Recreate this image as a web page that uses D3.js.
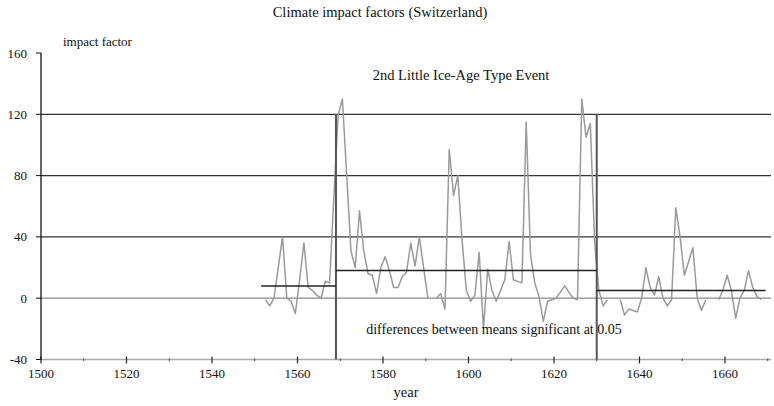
<!DOCTYPE html>
<html>
<head>
<meta charset="utf-8">
<script src="https://cdn.jsdelivr.net/npm/d3@7"></script>
<style>
  body { margin: 0; background: #fff; }
  text { font-family: "Liberation Serif", "DejaVu Serif", serif; fill: #111; }
</style>
</head>
<body>
<script>
// annual impact factor, 1552..1668 (null = no value)
var firstYear = 1552;
var impact = [
  -1, -5, 0, 20, 40, 0, -2, -10, 12, 36,
  7, 5, 2, 0, 11, 10, 66, 119, 130, 81,
  31, 20, 57, 31, 16, 15, 3, 20, 27, 18,
  7, 7, 14, 17, 36, 21, 40, 20, 0, null,
  0, 3, -7, 97, 67, 80, 38, 5, -2, 2,
  30, -20, 19, 5, -2, 5, 12, 37, 12, 11,
  10, 115, 29, 10, 1, -15, -2, -1, 0, 4,
  8, 4, 0, -1, 130, 105, 114, 37, 5, -5,
  -1, null, null, -1, -11, -7, -8, -9, 0, 20,
  7, 2, 14, 0, -5, -1, 59, 40, 15, 24,
  33, 0, -8, -1, null, null, -1, 5, 15, 5,
  -13, 0, 5, 18, 7, 1, -1
];
var years = impact.map(function (d, i) { return firstYear + i; });

// period means
var meanFrom = [1551.5, 1569, 1630];
var meanTo = [1569, 1630, 1669.5];
var meanValue = [8, 18, 5];

// event boundaries
var eventYears = [1569, 1630];

var xTicks = [1500, 1520, 1540, 1560, 1580, 1600, 1620, 1640, 1660];
var xMinor = [1510, 1530, 1550, 1570, 1590, 1610, 1630, 1650, 1670];
var yTicks = [-40, 0, 40, 80, 120, 160];
var gridValues = [0, 40, 80, 120];

var width = 774, height = 406;

var x = d3.scaleLinear().domain([1500, 1671]).range([41, 772]);
var y = d3.scaleLinear().domain([-40, 160]).range([359.5, 53]);

var svg = d3.select('body').append('svg')
  .attr('width', width)
  .attr('height', height);

// horizontal grid
svg.selectAll('.grid')
  .data(gridValues)
  .enter()
  .append('line')
    .attr('class', 'grid')
    .attr('x1', x(1500))
    .attr('x2', x(1671) - 1)
    .attr('y1', function (d) { return y(d); })
    .attr('y2', function (d) { return y(d); })
    .attr('stroke', function (d) { return d === 0 ? '#8a8a8a' : '#333'; })
    .attr('stroke-width', 1.3);

// x axis line (grey)
svg.append('line')
  .attr('x1', x(1500)).attr('x2', x(1671) - 1)
  .attr('y1', y(-40)).attr('y2', y(-40))
  .attr('stroke', '#aaa').attr('stroke-width', 1.6);

svg.selectAll('.xtick')
  .data(xTicks)
  .enter()
  .append('line')
    .attr('x1', function (d) { return x(d); })
    .attr('x2', function (d) { return x(d); })
    .attr('y1', y(-40) - 3).attr('y2', y(-40) + 4)
    .attr('stroke', '#222').attr('stroke-width', 1.2);

svg.selectAll('.xminor')
  .data(xMinor)
  .enter()
  .append('line')
    .attr('x1', function (d) { return x(d); })
    .attr('x2', function (d) { return x(d); })
    .attr('y1', y(-40) - 1).attr('y2', y(-40) + 1.5)
    .attr('stroke', '#444').attr('stroke-width', 1);

svg.selectAll('.xlabel')
  .data(xTicks)
  .enter()
  .append('text')
    .attr('x', function (d) { return x(d); })
    .attr('y', 378)
    .attr('text-anchor', 'middle')
    .style('font-size', '13px')
    .text(function (d) { return d; });

// y axis
svg.append('line')
  .attr('x1', x(1500)).attr('x2', x(1500))
  .attr('y1', y(160)).attr('y2', y(-40))
  .attr('stroke', '#111').attr('stroke-width', 1.3);

svg.selectAll('.ytick')
  .data(yTicks)
  .enter()
  .append('line')
    .attr('x1', x(1500) - 5).attr('x2', x(1500))
    .attr('y1', function (d) { return y(d); })
    .attr('y2', function (d) { return y(d); })
    .attr('stroke', '#111').attr('stroke-width', 1);

svg.selectAll('.ylabel')
  .data(yTicks)
  .enter()
  .append('text')
    .attr('x', 27)
    .attr('y', function (d) { return y(d) + 4.5; })
    .attr('text-anchor', 'end')
    .style('font-size', '13px')
    .text(function (d) { return d; });

// series
var line = d3.line()
  .defined(function (d) { return d.v !== null; })
  .x(function (d) { return x(d.year + 0.5); })
  .y(function (d) { return y(d.v); });

var series = years.map(function (yr, i) { return { year: yr, v: impact[i] }; });

svg.append('path')
  .datum(series)
  .attr('d', line)
  .attr('fill', 'none')
  .attr('stroke', '#9a9a9a')
  .attr('stroke-width', 1.5)
  .attr('stroke-linejoin', 'round');

// event boundary lines
svg.selectAll('.event')
  .data(eventYears)
  .enter()
  .append('line')
    .attr('x1', function (d) { return x(d); })
    .attr('x2', function (d) { return x(d); })
    .attr('y1', y(120)).attr('y2', y(-40))
    .attr('stroke', '#555').attr('stroke-width', 2);

// mean lines
svg.selectAll('.mean')
  .data(meanValue)
  .enter()
  .append('line')
    .attr('x1', function (d, i) { return x(meanFrom[i]); })
    .attr('x2', function (d, i) { return x(meanTo[i]); })
    .attr('y1', function (d) { return y(d); })
    .attr('y2', function (d) { return y(d); })
    .attr('stroke', '#222').attr('stroke-width', 1.5);

// texts
svg.append('text')
  .attr('x', 380).attr('y', 17)
  .attr('text-anchor', 'middle')
  .style('font-size', '14.5px')
  .text('Climate impact factors (Switzerland)');

svg.append('text')
  .attr('x', 63).attr('y', 46)
  .style('font-size', '13px')
  .text('impact factor');

svg.append('text')
  .attr('x', 461).attr('y', 80)
  .attr('text-anchor', 'middle')
  .style('font-size', '14.5px')
  .text('2nd Little Ice-Age Type Event');

svg.append('text')
  .attr('x', 494).attr('y', 334)
  .attr('text-anchor', 'middle')
  .style('font-size', '14px')
  .text('differences between means significant at 0.05');

svg.append('text')
  .attr('x', 406).attr('y', 397)
  .attr('text-anchor', 'middle')
  .style('font-size', '14.5px')
  .text('year');
</script>
</body>
</html>
